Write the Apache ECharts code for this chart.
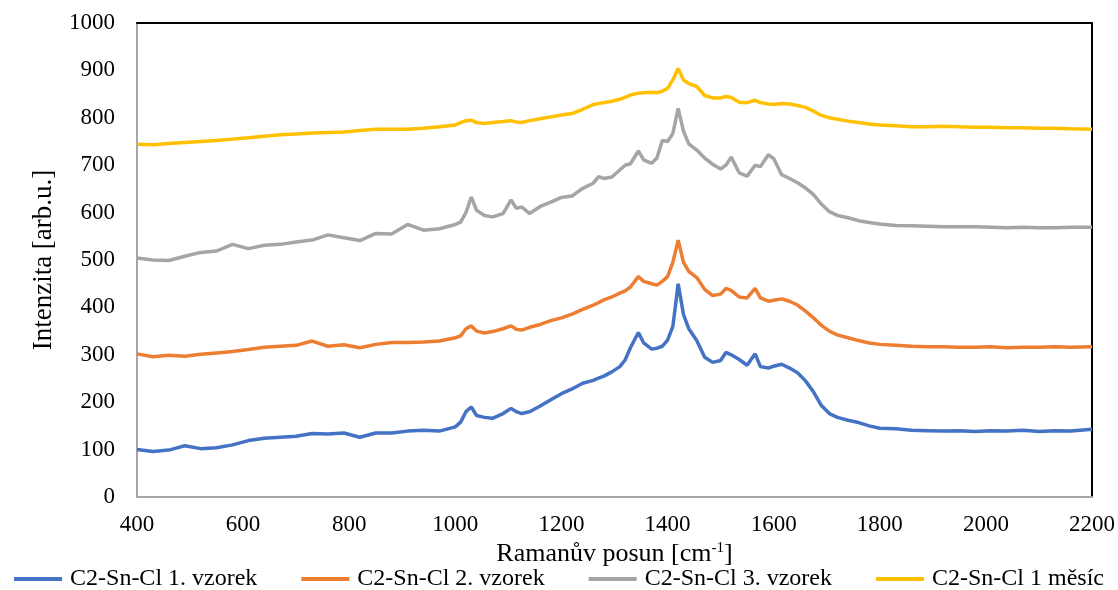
<!DOCTYPE html>
<html>
<head>
<meta charset="utf-8">
<script src="https://cdn.jsdelivr.net/npm/echarts@6/dist/echarts.min.js"></script>
<style>html,body{margin:0;padding:0;background:#fff}#c{width:1118px;height:590px}</style>
</head>
<body>
<div id="c"></div>
<script>
const wavenumbers = [400,430,460,490,520,550,580,610,640,670,700,730,760,790,820,850,880,910,940,970,1000,1010,1020,1030,1040,1055,1070,1090,1105,1115,1125,1140,1160,1180,1200,1220,1240,1260,1270,1280,1295,1310,1320,1330,1345,1355,1370,1380,1390,1400,1410,1420,1430,1440,1455,1470,1485,1500,1510,1520,1535,1550,1565,1575,1590,1600,1615,1630,1645,1660,1675,1690,1705,1720,1740,1760,1780,1800,1830,1860,1890,1920,1950,1980,2010,2040,2070,2100,2130,2160,2200];

const vzorek1 = [100,96,99,108,102,104,110,119,124,126,128,134,133,135,126,135,135,139,141,139,148,158,180,190,172,168,166,176,187,180,176,180,192,205,218,228,240,246,251,255,264,275,289,315,347,325,312,314,318,331,360,450,385,355,330,295,284,288,305,300,290,278,302,275,272,276,280,272,262,245,222,193,176,168,162,157,150,145,144,141,140,139,140,138,140,139,141,138,140,139,143];

const vzorek2 = [302,296,299,297,301,304,307,311,316,318,320,329,318,321,315,322,326,326,327,329,336,340,355,361,350,346,349,355,361,354,352,358,364,372,378,386,396,405,410,416,422,430,435,443,465,455,450,447,455,465,495,542,495,476,463,438,425,428,440,436,422,420,440,420,413,415,418,413,405,392,378,362,350,342,336,330,325,322,320,318,317,317,316,316,317,315,316,316,317,316,317];

const vzorek3 = [504,500,499,508,516,519,533,524,531,533,538,542,553,547,541,556,555,575,563,566,575,580,600,633,605,594,591,598,627,609,612,598,613,622,632,635,651,662,676,672,675,690,700,703,730,711,704,715,752,750,767,820,772,745,732,715,702,692,700,717,684,677,700,697,722,714,680,672,663,652,638,618,602,594,589,583,579,576,573,572,571,570,570,570,569,568,569,568,568,569,569];

const mesic1 = [744,743,746,748,750,752,755,758,761,764,766,768,769,770,773,776,776,776,778,781,785,790,794,795,790,788,790,792,794,791,790,794,798,802,806,809,818,828,830,832,835,839,843,848,852,853,854,853,856,862,880,904,880,872,866,847,842,842,845,843,833,832,837,832,829,828,830,829,826,822,814,805,800,797,793,790,787,785,783,781,781,782,781,780,780,779,779,778,778,777,776];

const seriesNames = ['C2-Sn-Cl 1. vzorek','C2-Sn-Cl 2. vzorek','C2-Sn-Cl 3. vzorek','C2-Sn-Cl 1 měsíc'];
const seriesValues = [vzorek1, vzorek2, vzorek3, mesic1];
const colors = ['#4472C4','#ED7D31','#A5A5A5','#FFC000'];

const font = '"Liberation Serif","Times New Roman",serif';
const chart = echarts.init(document.getElementById('c'), null, {renderer:'canvas'});
chart.setOption({
  animation:false,
  backgroundColor:'#fff',
  textStyle:{fontFamily:font},
  grid:{left:137,right:25,top:23,bottom:93,containLabel:false},
  legend:{
    bottom:-6, left:'center', itemWidth:48, itemHeight:4, itemGap:44,
    icon:'rect',
    textStyle:{fontFamily:font,fontSize:24,color:'#000',padding:[0,0,0,3]},
    data:seriesNames
  },
  xAxis:[{
    type:'value', min:400, max:2200, interval:200,
    axisLine:{show:true,lineStyle:{color:'#A6A6A6',width:2}},
    axisTick:{show:false}, splitLine:{show:false},
    axisLabel:{fontFamily:font,fontSize:23,color:'#000',margin:16,formatter:v=>String(v)},
    name:'{a|Ramanův posun [cm}{s|-1}{a|]}', nameLocation:'middle', nameGap:40,
    nameTextStyle:{rich:{a:{fontFamily:font,fontSize:26,color:'#000'},s:{fontFamily:font,fontSize:15,color:'#000',verticalAlign:'top',padding:[0,0,12,0]}}}
  },{
    type:'value', position:'top', min:400, max:2200,
    axisLine:{show:true,onZero:false,lineStyle:{color:'#000',width:2}},
    axisTick:{show:false}, axisLabel:{show:false}, splitLine:{show:false}
  }],
  yAxis:[{
    type:'value', min:0, max:1000, interval:100,
    axisLine:{show:true,lineStyle:{color:'#A6A6A6',width:2}},
    axisTick:{show:false}, splitLine:{show:false},
    axisLabel:{fontFamily:font,fontSize:23,color:'#000',margin:22,formatter:v=>String(v)},
    name:'Intenzita [arb.u.]', nameLocation:'middle', nameGap:80,
    nameTextStyle:{fontFamily:font,fontSize:27,color:'#000'}
  },{
    type:'value', position:'right', min:0, max:1000,
    axisLine:{show:true,onZero:false,lineStyle:{color:'#000',width:2}},
    axisTick:{show:false}, axisLabel:{show:false}, splitLine:{show:false}
  }],
  series: seriesNames.map((n,i)=>({
    name:n, type:'line', showSymbol:false, symbol:'none',
    data: wavenumbers.map((x,j)=>[x, seriesValues[i][j]]),
    lineStyle:{color:colors[i],width:3.5}, itemStyle:{color:colors[i]},
    smooth:false
  }))
});
</script>
</body>
</html>
